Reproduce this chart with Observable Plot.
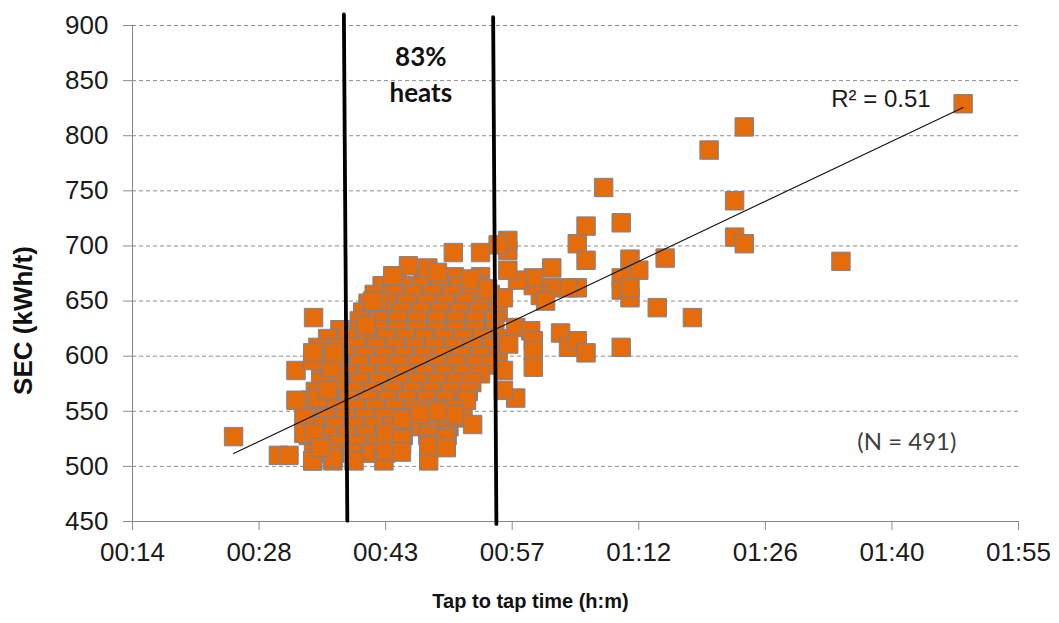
<!DOCTYPE html>
<html><head><meta charset="utf-8">
<script src="https://cdn.jsdelivr.net/npm/d3@7"></script>
<script src="https://cdn.jsdelivr.net/npm/@observablehq/plot@0.6"></script>
<style>body{margin:0;background:#fff}</style>
</head><body><div id="chart"></div>
<script>
// x values: tap-to-tap time in minutes; y values: SEC in kWh/t
const xTickValues = [14.4, 28.8, 43.2, 57.6, 72, 86.4, 100.8, 115.2];
const xTickLabels = ["00:14","00:28","00:43","00:57","01:12","01:26","01:40","01:55"];
const yTickValues = [450,500,550,600,650,700,750,800,850,900];

const farHeats = [[108.9,829],[84.0,808],[80.0,787],[82.9,741],[82.9,708],[84.0,702],[95.0,686]];
const rightHeats = [[68.0,753],[66.0,718],[70.0,721],[65.0,702],[66.0,687],[62.1,680],[71.0,688],[72.0,678],
  [75.0,689],[70.0,671],[70.0,660],[71.0,653],[71.0,662],[74.1,644],[78.1,635],[70.0,608],[63.1,621],[64.0,608],
  [65.0,614],[66.0,603],[65.0,662],[63.9,662],[62.0,662],[60.8,655],[60.0,664],[61.4,650],[60.0,671],[58.2,669],
  [57.1,678],[57.1,696],[57.1,705],[56.0,701],[58.0,626],[59.7,623],[60.0,614],[60.0,605],[60.0,590],[58.0,562],
  [56.6,569],[56.6,587],[57.2,611],[56.6,653],[54.8,661]];
const leftHeats = [[25.9,527],[35.0,635],[33.0,587],[34.9,596],[34.9,603],[33.0,560],[31.0,510],[32.2,510],
  [34.9,505],[37.2,508],[37.0,590],[37.3,603],[33.9,544],[33.9,530],[35.0,530],[35.8,517],[35.5,562],[36.6,569]];
const topHeats = [[50.9,694],[54.0,694],[45.8,682],[44.0,673],[48.0,680],[49.1,676],[52.9,670],[42.3,650],[41.7,650],[41.0,628]];
const bottomHeats = [[43.0,505],[48.1,505],[48.1,519],[50.1,526],[50.1,517],[53.1,538],[51.0,547],[49.1,550],
  [47.1,548],[45.0,543],[43.2,530],[43.2,514],[45.0,525],[45.0,513]];
const coreRows = [
  {sec:672, times:[44.5,47.5,51.0,54.0]},
  {sec:664, times:[42.8,45.0,47.2,49.4,51.6,53.8]},
  {sec:656, times:[41.9,44.1,46.3,48.5,50.7,52.9,55.1]},
  {sec:648, times:[41.2,43.4,45.6,47.8,50.0,52.2,54.4]},
  {sec:640, times:[40.6,42.8,45.0,47.2,49.4,51.6,53.8,56.0]},
  {sec:632, times:[40.2,42.4,44.6,46.8,49.0,51.2,53.4,55.6]},
  {sec:624, times:[38.0,40.2,42.4,44.6,46.8,49.0,51.2,53.4,55.6]},
  {sec:616, times:[36.6,38.8,41.0,43.2,45.4,47.6,49.8,52.0,54.2,56.2]},
  {sec:608, times:[35.5,37.7,39.9,42.1,44.3,46.5,48.7,50.9,53.1,55.3]},
  {sec:600, times:[36.4,38.6,40.8,43.0,45.2,47.4,49.6,51.8,54.0,56.0]},
  {sec:592, times:[35.8,38.0,40.2,42.4,44.6,46.8,49.0,51.2,53.4,55.4]},
  {sec:584, times:[36.6,38.8,41.0,43.2,45.4,47.6,49.8,52.0,54.0]},
  {sec:576, times:[35.8,38.0,40.2,42.4,44.6,46.8,49.0,51.2,53.0]},
  {sec:568, times:[35.2,37.4,39.6,41.8,44.0,46.2,48.4,50.6,52.6]},
  {sec:560, times:[34.6,36.8,39.0,41.2,43.4,45.6,47.8,50.0,52.4]},
  {sec:552, times:[35.4,37.6,39.8,42.0,44.2,46.4,48.6,50.8]},
  {sec:544, times:[34.2,36.4,38.6,40.8,43.0,45.2,47.4,49.6,52.0]},
  {sec:536, times:[35.2,37.4,39.6,41.8,44.0,46.2,50.4]},
  {sec:528, times:[34.4,36.6,38.8,41.0,43.2,45.2,48.0,50.2]},
  {sec:520, times:[35.6,37.8,40.0,42.2,45.0,48.1]},
  {sec:512, times:[35.0,37.2,39.4,41.6,43.2]},
  {sec:505, times:[34.9,37.2,39.6]}
];
const trendLine = [[25.9,511.6],[108.9,825.6]];
const boundLow = [[38.45,910],[38.84,450.8]];
const boundHigh = [[55.43,907.5],[55.8,447.8]];

const heats = [
  ...coreRows.flatMap(r => r.times.map(t => [t, r.sec])),
  ...bottomHeats, ...topHeats, ...leftHeats, ...rightHeats, ...farHeats
];

const arial = "'Liberation Sans', Arial, sans-serif";
const calibri = "Lato, 'Open Sans', sans-serif";

const chart = Plot.plot({
  width: 1059, height: 623,
  marginLeft: 132, marginRight: 41, marginTop: 25, marginBottom: 102,
  style: {fontFamily: arial, background: "#fff", overflow: "visible"},
  x: {domain: [14.4, 115.2]},
  y: {domain: [450, 900]},
  marks: [
    Plot.ruleY(yTickValues.slice(1), {stroke: "#8c8c8c", strokeDasharray: "4,3"}),
    Plot.axisY({ticks: yTickValues, tickSize: 9, tickPadding: 15, fontSize: 26, stroke: "#8c8c8c", fill: "#1a1a1a", label: null}),
    Plot.axisX({ticks: xTickValues, tickFormat: d => xTickLabels[xTickValues.indexOf(d)], tickSize: 9, tickPadding: 12, fontSize: 26, stroke: "#8c8c8c", fill: "#1a1a1a", label: null}),
    Plot.ruleX([14.4], {stroke: "#868686"}),
    Plot.ruleY([450], {stroke: "#868686"}),
    Plot.dot(heats, {x: d => d[0], y: d => d[1], symbol: "square", r: 10.4, fill: "#E46C0A", stroke: "#7384a0", strokeWidth: 1}),
    Plot.line(trendLine, {x: d => d[0], y: d => d[1], stroke: "#111", strokeWidth: 1.1}),
    Plot.line(boundLow, {x: d => d[0], y: d => d[1], stroke: "#000", strokeWidth: 3.8}),
    Plot.line(boundHigh, {x: d => d[0], y: d => d[1], stroke: "#000", strokeWidth: 3.8}),
    Plot.text([[47.2, 871.2]], {x: d => d[0], y: d => d[1], text: () => "83%", fontFamily: calibri, fontWeight: "bold", fontSize: 26, fill: "#111"}),
    Plot.text([[47.2, 837.7]], {x: d => d[0], y: d => d[1], text: () => "heats", fontFamily: calibri, fontWeight: "bold", fontSize: 26, fill: "#111"}),
    Plot.text([[99.55, 832.6]], {x: d => d[0], y: d => d[1], text: () => "R² = 0.51", fontSize: 24, fill: "#1a1a1a"}),
    Plot.text([[102.5, 521.6]], {x: d => d[0], y: d => d[1], text: () => "(N = 491)", fontFamily: calibri, fontSize: 24, fill: "#404040"}),
    Plot.text(["Tap to tap time (h:m)"], {frameAnchor: "bottom", lineAnchor: "middle", textAnchor: "middle", dx: -45, dy: 80, fontWeight: "bold", fontSize: 20, fill: "#111"}),
    Plot.text(["SEC (kWh/t)"], {frameAnchor: "left", lineAnchor: "middle", textAnchor: "middle", rotate: -90, dx: -109, dy: 47, fontWeight: "bold", fontSize: 26, fill: "#111"})
  ]
});
document.getElementById("chart").appendChild(chart);
</script>
</body></html>
